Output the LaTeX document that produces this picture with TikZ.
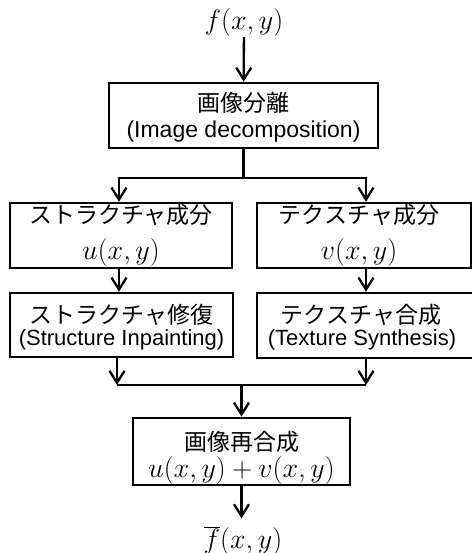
\RequirePackage{fix-cm}
\documentclass[tikz,border=0pt]{standalone}
\usepackage[no-math]{fontspec}
\newfontfamily\jpfont{Noto Sans CJK JP}
\newfontfamily\enfont{Liberation Sans}
\usetikzlibrary{arrows.meta}
\tikzset{
  box/.style={draw, line width=2.5pt, rectangle, inner sep=0pt},
  jp/.style={anchor=base, inner sep=0pt, font=\jpfont\fontsize{23}{23}\selectfont},
  en/.style={anchor=base, inner sep=0pt, font=\enfont\fontsize{23}{23}\selectfont},
  ensmall/.style={anchor=base, inner sep=0pt, font=\enfont\fontsize{22}{22}\selectfont},
  mth/.style={anchor=base, inner sep=0pt, font=\fontsize{28}{28}\selectfont},
  arr/.style={line width=2.3pt, -{Straight Barb[length=12pt,width=15pt]}},
  ln/.style={line width=2.3pt},
}
\begin{document}
\begin{tikzpicture}[x=1pt,y=-1pt]
\useasboundingbox (0,0) rectangle (471,553);
% input
\node[mth] (fin) at (244,30) {$f(x,y)$};
% decomposition
\node[box, minimum width=269pt, minimum height=65pt] (dec) at (243.5,115.5) {};
\node[jp] (decj) at (243.5,111.8) {画像分離};
\node[en] (dece) at (243.5,137.5) {(Image decomposition)};
% structure component
\node[box, minimum width=222pt, minimum height=65pt] (s1) at (121,235.5) {};
\node[jp] (s1j) at (121,223) {ストラクチャ成分};
\node[mth] (s1m) at (121,259.5) {$u(x,y)$};
% texture component
\node[box, minimum width=214pt, minimum height=65pt] (t1) at (364,235.5) {};
\node[jp] (t1j) at (359,223) {テクスチャ成分};
\node[mth] (t1m) at (359,259.5) {$v(x,y)$};
% structure inpainting
\node[box, minimum width=223pt, minimum height=64pt] (s2) at (121.5,325) {};
\node[jp] (s2j) at (121.5,323.8) {ストラクチャ修復};
\node[ensmall] (s2e) at (121.5,345) {(Structure Inpainting)};
% texture synthesis
\node[box, minimum width=220pt, minimum height=65pt] (t2) at (367,325.5) {};
\node[jp] (t2j) at (361,323.8) {テクスチャ合成};
\node[ensmall] (t2e) at (362,345) {(Texture Synthesis)};
% recomposition
\node[box, minimum width=217pt, minimum height=67pt] (fb) at (241.5,451.5) {};
\node[jp] (fbj) at (241.5,450.8) {画像再合成};
\node[mth] (fbm) at (241.5,477) {$u(x,y)+v(x,y)$};
% output
\node[mth] (fout) at (243,548) {$\overline{f}(x,y)$};
% connectors
\coordinate (sp) at (243.5,178);
\coordinate (spL) at (119,178);
\coordinate (spR) at (366,178);
\coordinate (mgL) at (117,385);
\coordinate (mgR) at (366,385);
\coordinate (mg) at (241.5,385);
\draw[arr] (fin) -- (dec);
\draw[arr] (dec.south) -- (sp) -| (spL |- s1.north);
\draw[arr] (sp) -| (spR |- t1.north);
\draw[arr] (s1.south -| spL) -- (s2.north -| spL);
\draw[arr] (t1.south -| spR) -- (t2.north -| spR);
\draw[arr] (s2.south -| mgL) -- (mgL);
\draw[arr] (t2.south -| mgR) -- (mgR);
\draw[ln] (mgL) -- (mgR);
\draw[arr] (mg) -- (fb.north);
\draw[arr, shorten >=8pt] (fb.south) -- (fout.north -| fb.south);
\end{tikzpicture}
\end{document}
